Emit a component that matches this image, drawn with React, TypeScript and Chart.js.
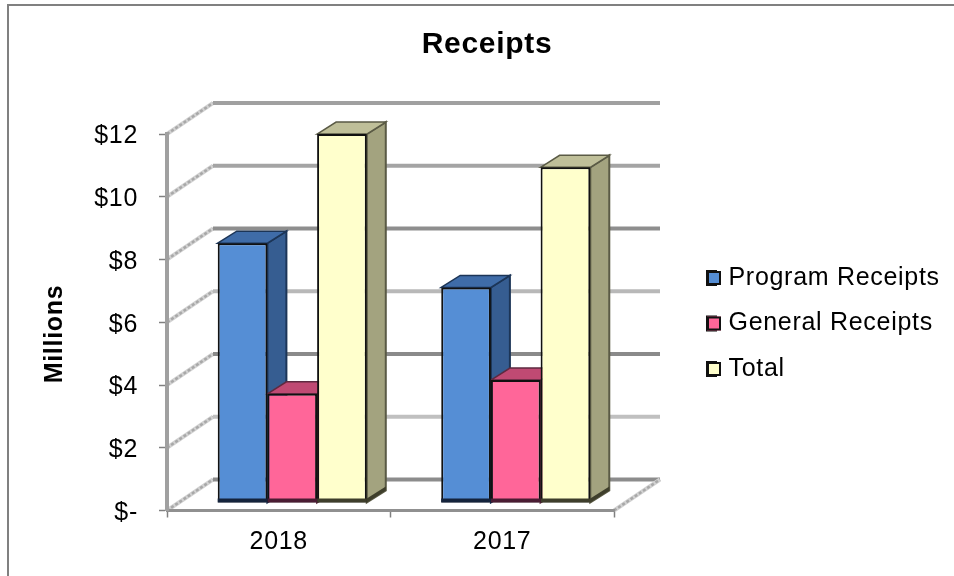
import React, { useEffect, useRef } from "react";
import { Chart, registerables } from "chart.js";

Chart.register(...registerables);

const categories = ["2018", "2017"];
const programReceipts = [8.28, 6.87];
const generalReceipts = [3.48, 3.92];
const totalReceipts = [11.76, 10.7];
const yTicks = [0, 2, 4, 6, 8, 10, 12];
const yTickLabels = ["$-", "$2", "$4", "$6", "$8", "$10", "$12"];
const backLineColors = ["#8c8c8c", "#c0c0c0", "#8a8a8a", "#b8b8b8", "#8e8e8e", "#a4a4a4", "#a0a0a0"];

const FONT = "'Liberation Sans', Arial, sans-serif";
const WALL_DX = 46;
const WALL_DY = -31;
const BAR_DX = 13.5;
const BAR_DY = -7.5;
const DEPTH_X = 19;
const DEPTH_Y = -12;

const fronts = ["#558ed5", "#ff6699", "#ffffcc"];
const sides = ["#365d91", "#c04a73", "#a3a37f"];
const tops = ["#3f6ca8", "#c04a73", "#bfbf99"];
const edges = ["#1c3557", "#5e2a40", "#5a5a45"];
const bases = ["#14233c", "#4a1c33", "#3e3e2b"];

function poly(ctx: CanvasRenderingContext2D, pts: number[][], fill: string, stroke?: string, lw = 1.5) {
  ctx.beginPath();
  pts.forEach((p, i) => (i ? ctx.lineTo(p[0], p[1]) : ctx.moveTo(p[0], p[1])));
  ctx.closePath();
  ctx.fillStyle = fill;
  ctx.fill();
  if (stroke) {
    ctx.strokeStyle = stroke;
    ctx.lineWidth = lw;
    ctx.stroke();
  }
}

const receipts3d = {
  id: "receipts3d",
  beforeLayout(chart: any) {
    const legend = chart.legend;
    if (legend && !legend.__wrapped) {
      legend.__wrapped = true;
      const fit = legend.fit.bind(legend);
      legend.fit = () => {
        fit();
        legend.width = 340;
      };
    }
  },
  afterLayout(chart: any) {
    const legend = chart.legend;
    const pad = legend.options.labels.padding;
    const w = legend.right - legend.left;
    const h = legend.bottom - legend.top;
    legend.left = 707 - pad;
    legend.right = legend.left + w;
    legend.top = 278 - 12.5 - pad;
    legend.bottom = legend.top + h;
    chart.scales.y.getLabelItems(chart.chartArea).forEach((item: any) => {
      item.textOffset += 2.5;
    });
  },
  beforeDraw(chart: any) {
    const ctx: CanvasRenderingContext2D = chart.ctx;
    const { left, right } = chart.chartArea;
    const y = chart.scales.y;
    (ctx as any).letterSpacing = "0.7px";
    ctx.save();
    ctx.fillStyle = "#ffffff";
    ctx.fillRect(0, 0, chart.width, chart.height);
    ctx.fillStyle = "#808080";
    ctx.fillRect(7, 4, chart.width - 7, 2);
    ctx.fillRect(7, 4, 2, chart.height - 4);
    const y0 = y.getPixelForValue(0);

    const wallLine = (x1: number, y1: number, x2: number, y2: number) => {
      ctx.setLineDash([]);
      ctx.strokeStyle = "#d2d2d2";
      ctx.lineWidth = 4;
      ctx.beginPath();
      ctx.moveTo(x1, y1);
      ctx.lineTo(x2, y2);
      ctx.stroke();
      ctx.setLineDash([3, 2]);
      ctx.strokeStyle = "#a8a8a8";
      ctx.lineWidth = 2.5;
      ctx.beginPath();
      ctx.moveTo(x1, y1);
      ctx.lineTo(x2, y2);
      ctx.stroke();
      ctx.setLineDash([]);
    };

    yTicks.forEach((v, i) => {
      const py = y.getPixelForValue(v);
      wallLine(left, py, left + WALL_DX, py + WALL_DY);
      ctx.strokeStyle = backLineColors[i];
      ctx.lineWidth = 4;
      ctx.beginPath();
      ctx.moveTo(left + WALL_DX, py + WALL_DY);
      ctx.lineTo(right + WALL_DX, py + WALL_DY);
      ctx.stroke();
    });
    wallLine(right, y0, right + WALL_DX, y0 + WALL_DY);
    ctx.restore();
  },
  beforeDatasetsDraw(chart: any) {
    const ctx: CanvasRenderingContext2D = chart.ctx;
    ctx.save();
    ctx.translate(BAR_DX, BAR_DY);
    // Depth faces go on first, left to right, so the front faces sit over them.
    chart.data.datasets.forEach((_: any, i: number) => {
      chart.getDatasetMeta(i).data.forEach((bar: any) => {
        const half = bar.width / 2;
        const l = bar.x - half;
        const r = bar.x + half;
        const t = bar.y;
        const b = bar.base;
        poly(ctx, [[r, t], [r + DEPTH_X, t + DEPTH_Y], [r + DEPTH_X, b + DEPTH_Y], [r, b]], sides[i], edges[i], 2);
        poly(ctx, [[r, b - 4], [r + DEPTH_X, b - 4 + DEPTH_Y], [r + DEPTH_X, b + DEPTH_Y], [r, b]], bases[i]);
        poly(ctx, [[l, t], [l + DEPTH_X, t + DEPTH_Y], [r + DEPTH_X, t + DEPTH_Y], [r, t]], tops[i], edges[i], 1.5);
      });
    });
  },
  afterDatasetDraw(chart: any, args: any) {
    const ctx: CanvasRenderingContext2D = chart.ctx;
    const i = args.index;
    chart.getDatasetMeta(i).data.forEach((bar: any) => {
      ctx.fillStyle = bases[i];
      ctx.fillRect(bar.x - bar.width / 2, bar.base - 4, bar.width, 4);
    });
  },
  afterDatasetsDraw(chart: any) {
    chart.ctx.restore();
  },
  afterDraw(chart: any) {
    const ctx: CanvasRenderingContext2D = chart.ctx;
    ctx.save();
    chart.legend.legendHitBoxes.forEach((box: any, i: number) => {
      const top = box.top + (box.height - 14) / 2;
      ctx.fillStyle = fronts[i];
      ctx.strokeStyle = "#111111";
      ctx.lineWidth = 2;
      ctx.fillRect(box.left, top, 14, 14);
      ctx.strokeRect(box.left + 1, top + 1, 12, 12);
    });
    ctx.translate(55, 334);
    ctx.rotate(-Math.PI / 2);
    ctx.fillStyle = "#000000";
    ctx.font = `bold 25px ${FONT}`;
    ctx.textAlign = "center";
    ctx.textBaseline = "middle";
    ctx.fillText("Millions", 0, 0);
    ctx.restore();
  },
};

export default function App() {
  const ref = useRef<HTMLCanvasElement>(null);
  useEffect(() => {
    const makeSet = (label: string, data: number[], i: number) => ({
      label,
      data,
      backgroundColor: fronts[i],
      borderColor: "#111111",
      borderWidth: 2,
      borderSkipped: false,
      clip: false,
      categoryPercentage: 0.667,
      barPercentage: 1,
    });
    const chart = new Chart(ref.current!, {
      type: "bar",
      data: {
        labels: categories,
        datasets: [
          makeSet("Program Receipts", programReceipts, 0),
          makeSet("General Receipts", generalReceipts, 1),
          makeSet("Total", totalReceipts, 2),
        ],
      },
      options: {
        responsive: false,
        animation: false,
        layout: { padding: { left: 20, right: 0, top: 0, bottom: 0 } },
        plugins: {
          tooltip: { enabled: false },
          title: {
            display: true,
            text: "Receipts",
            color: "#000000",
            font: { family: FONT, size: 30, weight: "bold", lineHeight: 1.2 },
            padding: { top: 27, bottom: 71 },
          },
          legend: {
            position: "right",
            align: "start",
            labels: {
              boxWidth: 9,
              boxHeight: 14,
              padding: 20.5,
              color: "#000000",
              font: { family: FONT, size: 25 },
            },
          },
        },
        scales: {
          x: {
            afterFit: (s: any) => {
              s.height = 65.5;
            },
            grid: { drawOnChartArea: false, drawTicks: true, tickLength: 7, tickWidth: 1.5, tickColor: "#808080" },
            border: { color: "#909090", width: 3 },
            ticks: { color: "#000000", padding: 10, maxRotation: 0, font: { family: FONT, size: 25 } },
          },
          y: {
            min: 0,
            max: 12,
            afterFit: (s: any) => {
              s.width = 147;
            },
            grid: { drawOnChartArea: false, drawTicks: true, tickLength: 8, tickWidth: 1.5, tickColor: "#808080" },
            border: { color: "#a0a0a0", width: 4 },
            ticks: {
              stepSize: 2,
              padding: 21,
              color: "#000000",
              font: { family: FONT, size: 25 },
              callback: (v: any) => yTickLabels[yTicks.indexOf(Number(v))],
            },
          },
        },
      } as any,
      plugins: [receipts3d] as any,
    });
    return () => chart.destroy();
  }, []);
  return (
    <div style={{ position: "fixed", left: 0, top: 0, width: 954, height: 576 }}>
      <canvas ref={ref} width={954} height={576} style={{ display: "block" }} />
    </div>
  );
}
